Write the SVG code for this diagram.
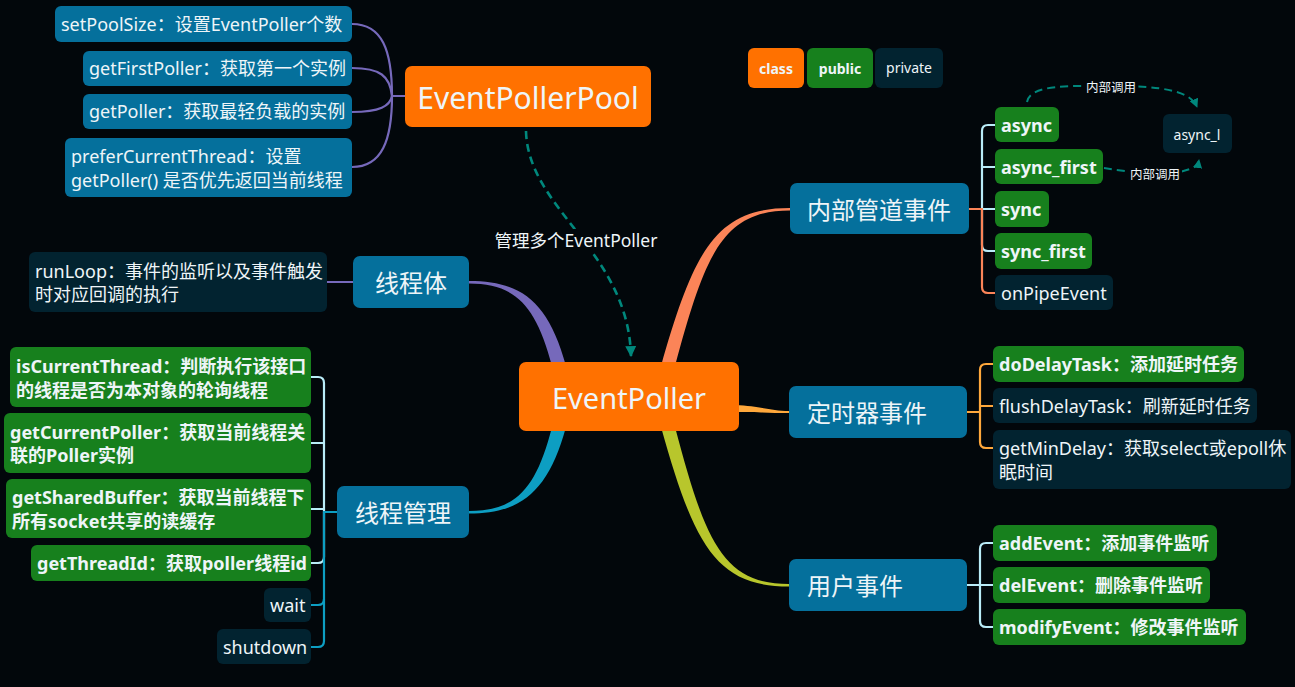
<svg xmlns="http://www.w3.org/2000/svg" width="1295" height="687" viewBox="0 0 1295 687">
<style>
text{font-family:"Noto Sans","Noto Sans CJK SC",sans-serif;fill:#eef5f8;dominant-baseline:central}
.c{font-size:18px}
.b{font-weight:bold}
.h{font-size:24px}
.m{text-anchor:middle}
.orange{fill:#ff7100}
.blue{fill:#05709c}
.dark{fill:#022330}
.green{fill:#17801d}
.ln{fill:none;stroke-width:2.2;stroke-linecap:round;stroke-linejoin:round}
.dash{fill:none;stroke:#00877c;stroke-dasharray:8 5}
.lbl{font-size:12.5px}
</style>
<defs>
<marker id="arr" viewBox="0 0 10 10" refX="9" refY="5" markerWidth="11" markerHeight="11" markerUnits="userSpaceOnUse" orient="auto">
<path d="M0,0 L10,5 L0,10 z" fill="#00877c"/>
</marker>
<marker id="arrs" viewBox="0 0 10 10" refX="9" refY="5" markerWidth="9" markerHeight="9" markerUnits="userSpaceOnUse" orient="auto">
<path d="M0,0 L10,5 L0,10 z" fill="#00877c"/>
</marker>
</defs>
<rect width="1295" height="687" fill="#02070b"/>

<g id="connectors">
<!-- main tapered branches -->
<path d="M566,366 C548,300 520,281 469,281 L469,283.5 C515,283.5 536,305 552,366 Z" fill="#7669bb"/>
<path d="M552,427 C536,490 515,511 469,511 L469,513.5 C520,513.5 548,493 566,427 Z" fill="#0d9ec2"/>
<path d="M661,366 C694,250 716,208 790,208 L790,210.5 C722,210.5 705,255 675,366 Z" fill="#fb8458"/>
<path d="M735,405 C760,406 770,411 789,411 L789,413 C770,413 760,412 735,412 Z" fill="#ffa83c"/>
<path d="M675,427 C705,540 722,584 789,584 L789,586.5 C716,586.5 694,545 661,427 Z" fill="#b8c62c"/>

<!-- EventPollerPool children -->
<g class="ln" stroke="#7669bb" stroke-width="2.5">
<path d="M405,96 H392"/>
<path d="M392,96 C392,50 382,24 352,24"/>
<path d="M392,96 C390,76 380,68 352,68"/>
<path d="M392,96 C390,106 380,112 352,112"/>
<path d="M392,96 C392,140 382,167 352,167"/>
<path d="M353,282 H327"/>
</g>

<!-- 线程管理 brackets -->
<g class="ln" stroke="#b9ecf8">
<path d="M311,377 H318 Q324,377 324,383 V557 Q324,563 318,563 H311"/>
<path d="M311,443 H324"/>
<path d="M311,509 H324"/>
</g>
<g class="ln" stroke="#0d9ec2">
<path d="M337,512 H324"/>
<path d="M324,512 V641 Q324,647 318,647 H311"/>
<path d="M324,599 Q324,605 318,605 H311"/>
</g>

<!-- 内部管道事件 brackets -->
<g class="ln" stroke="#b9ecf8">
<path d="M995,125 H988 Q982,125 982,131 V245 Q982,251 988,251 H995"/>
<path d="M982,167 H995"/>
<path d="M982,209 H995"/>
</g>
<g class="ln" stroke="#fb8458">
<path d="M969,209 H982"/>
<path d="M982,209 V287 Q982,293 988,293 H995"/>
</g>

<!-- 定时器事件 brackets -->
<g class="ln" stroke="#ffa83c">
<path d="M967,412 H980"/>
<path d="M993,364 H986 Q980,364 980,370 V442 Q980,448 986,448 H993"/>
<path d="M980,406 H993"/>
</g>

<!-- 用户事件 brackets -->
<g class="ln" stroke="#b9ecf8">
<path d="M967,585 H993"/>
<path d="M993,543 H986 Q980,543 980,549 V621 Q980,627 986,627 H993"/>
</g>

<!-- dashed relations -->
<path class="dash" stroke-width="2.6" d="M526,131 C528,210 628,250 631,356" marker-end="url(#arr)"/>
<rect x="490" y="229" width="172" height="22" fill="#02070b"/>
<text x="576" y="240" class="m" style="font-size:17.5px">管理多个EventPoller</text>

<path class="dash" stroke-width="2" d="M1027,102 C1030,84 1070,86 1110,86 C1160,86 1190,90 1197,107" marker-end="url(#arrs)"/>
<rect x="1084" y="79" width="54" height="16" fill="#02070b"/>
<text x="1111" y="87" class="lbl m">内部调用</text>
<path class="dash" stroke-width="2" d="M1104,168 C1130,172 1160,176 1180,172 C1195,168 1198,166 1199,160" marker-end="url(#arrs)"/>
<rect x="1128" y="166" width="54" height="16" fill="#02070b"/>
<text x="1155" y="174" class="lbl m">内部调用</text>
</g>

<g id="legend">
<rect x="748" y="48" width="56" height="40" rx="6" class="orange"/>
<text x="776" y="68" class="m b" style="font-size:14px">class</text>
<rect x="807" y="48" width="66" height="40" rx="6" class="green"/>
<text x="840" y="68" class="m b" style="font-size:14px">public</text>
<rect x="875" y="48" width="68" height="40" rx="6" class="dark"/>
<text x="909" y="67" class="m" style="font-size:14px">private</text>
</g>

<g id="EventPoller">
<rect x="519" y="362" width="220" height="69" rx="7" class="orange"/>
<text x="629" y="397" class="m" style="font-size:29px">EventPoller</text>
</g>

<g id="EventPollerPool">
<rect x="405" y="66" width="246" height="61" rx="7" class="orange"/>
<text x="528" y="97" class="m" style="font-size:30px">EventPollerPool</text>
</g>

<g id="setPoolSize">
<rect x="55" y="6" width="297" height="36" rx="6" class="blue"/>
<text x="61" y="24" class="c">setPoolSize：设置EventPoller个数</text>
</g>
<g id="getFirstPoller">
<rect x="83" y="51" width="269" height="35" rx="6" class="blue"/>
<text x="89" y="68" class="c">getFirstPoller：获取第一个实例</text>
</g>
<g id="getPoller">
<rect x="83" y="94" width="269" height="35" rx="6" class="blue"/>
<text x="89" y="111" class="c">getPoller：获取最轻负载的实例</text>
</g>
<g id="preferCurrentThread">
<rect x="65" y="138" width="287" height="59" rx="6" class="blue"/>
<text x="71" y="156" class="c">preferCurrentThread：设置</text>
<text x="71" y="180" class="c">getPoller() 是否优先返回当前线程</text>
</g>

<g id="threadBody">
<rect x="353" y="256" width="116" height="52" rx="7" class="blue"/>
<text x="411" y="282" class="h m">线程体</text>
</g>
<g id="runLoop">
<rect x="29" y="252" width="298" height="60" rx="6" class="dark"/>
<text x="35" y="271" class="c">runLoop：事件的监听以及事件触发</text>
<text x="35" y="294" class="c">时对应回调的执行</text>
</g>

<g id="threadManage">
<rect x="337" y="486" width="132" height="52" rx="7" class="blue"/>
<text x="403" y="512" class="h m">线程管理</text>
</g>
<g id="isCurrentThread">
<rect x="10" y="347" width="301" height="60" rx="6" class="green"/>
<text x="16" y="366" class="c b">isCurrentThread：判断执行该接口</text>
<text x="16" y="390" class="c b">的线程是否为本对象的轮询线程</text>
</g>
<g id="getCurrentPoller">
<rect x="4" y="413" width="307" height="60" rx="6" class="green"/>
<text x="10" y="432" class="c b">getCurrentPoller：获取当前线程关</text>
<text x="10" y="455" class="c b">联的Poller实例</text>
</g>
<g id="getSharedBuffer">
<rect x="6" y="479" width="305" height="59" rx="6" class="green"/>
<text x="12" y="497" class="c b">getSharedBuffer：获取当前线程下</text>
<text x="12" y="521" class="c b">所有socket共享的读缓存</text>
</g>
<g id="getThreadId">
<rect x="31" y="545" width="280" height="36" rx="6" class="green"/>
<text x="37" y="563" class="c b">getThreadId：获取poller线程id</text>
</g>
<g id="wait">
<rect x="264" y="588" width="47" height="34" rx="6" class="dark"/>
<text x="270" y="605" class="c">wait</text>
</g>
<g id="shutdown">
<rect x="217" y="629" width="94" height="35" rx="6" class="dark"/>
<text x="223" y="647" class="c">shutdown</text>
</g>

<g id="pipeEvents">
<rect x="790" y="183" width="179" height="51" rx="7" class="blue"/>
<text x="807" y="209" class="h">内部管道事件</text>
</g>
<g id="async">
<rect x="995" y="107" width="64" height="35" rx="6" class="green"/>
<text x="1001" y="125" class="c b">async</text>
</g>
<g id="async_first">
<rect x="995" y="149" width="108" height="35" rx="6" class="green"/>
<text x="1001" y="167" class="c b">async_first</text>
</g>
<g id="sync">
<rect x="995" y="191" width="54" height="36" rx="6" class="green"/>
<text x="1001" y="209" class="c b">sync</text>
</g>
<g id="sync_first">
<rect x="995" y="233" width="97" height="36" rx="6" class="green"/>
<text x="1001" y="251" class="c b">sync_first</text>
</g>
<g id="onPipeEvent">
<rect x="995" y="275" width="118" height="35" rx="6" class="dark"/>
<text x="1001" y="293" class="c">onPipeEvent</text>
</g>
<g id="async_l">
<rect x="1163" y="114" width="69" height="39" rx="6" class="dark"/>
<text x="1197" y="134" class="m" style="font-size:14px">async_l</text>
</g>

<g id="timerEvents">
<rect x="789" y="386" width="178" height="52" rx="7" class="blue"/>
<text x="807" y="412" class="h">定时器事件</text>
</g>
<g id="doDelayTask">
<rect x="993" y="346" width="251" height="36" rx="6" class="green"/>
<text x="999" y="364" class="c b">doDelayTask：添加延时任务</text>
</g>
<g id="flushDelayTask">
<rect x="993" y="388" width="264" height="35" rx="6" class="dark"/>
<text x="999" y="406" class="c">flushDelayTask：刷新延时任务</text>
</g>
<g id="getMinDelay">
<rect x="993" y="430" width="298" height="59" rx="6" class="dark"/>
<text x="999" y="448" class="c">getMinDelay：获取select或epoll休</text>
<text x="999" y="472" class="c">眠时间</text>
</g>

<g id="userEvents">
<rect x="789" y="559" width="178" height="52" rx="7" class="blue"/>
<text x="807" y="585" class="h">用户事件</text>
</g>
<g id="addEvent">
<rect x="993" y="525" width="224" height="36" rx="6" class="green"/>
<text x="999" y="543" class="c b">addEvent：添加事件监听</text>
</g>
<g id="delEvent">
<rect x="993" y="567" width="217" height="36" rx="6" class="green"/>
<text x="999" y="585" class="c b">delEvent：删除事件监听</text>
</g>
<g id="modifyEvent">
<rect x="993" y="609" width="253" height="36" rx="6" class="green"/>
<text x="999" y="627" class="c b">modifyEvent：修改事件监听</text>
</g>
</svg>
